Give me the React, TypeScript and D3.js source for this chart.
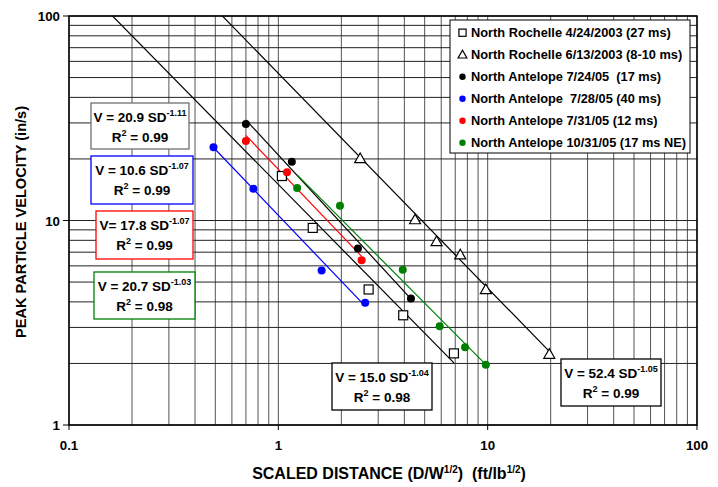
import React from "react";
import * as d3 from "d3";

// series: scaled distance (ft/lb^1/2) and peak particle velocity (in/s)
const seriesNames = [
  "North Rochelle 4/24/2003 (27 ms)",
  "North Rochelle 6/13/2003 (8-10 ms)",
  "North Antelope 7/24/05  (17 ms)",
  "North Antelope  7/28/05 (40 ms)",
  "North Antelope 7/31/05 (12 ms)",
  "North Antelope 10/31/05 (17 ms NE)",
];
const seriesColors = ["#000", "#000", "#000", "#0000ff", "#ff0000", "#008000"];
const seriesShapes = ["square", "triangle", "circle", "circle", "circle", "circle"];

const rochelleAprSD = [1.04, 1.46, 2.7, 3.95, 6.9];
const rochelleAprPPV = [16.5, 9.2, 4.6, 3.44, 2.24];
const rochelleJunSD = [2.46, 4.5, 5.7, 7.4, 9.8, 19.7];
const rochelleJunPPV = [20.1, 10.1, 7.9, 6.8, 4.6, 2.22];
const antelopeJul24SD = [0.7, 1.16, 2.4, 4.3];
const antelopeJul24PPV = [29.6, 19.4, 7.3, 4.15];
const antelopeJul28SD = [0.49, 0.76, 1.61, 2.6];
const antelopeJul28PPV = [22.8, 14.3, 5.7, 3.96];
const antelopeJul31SD = [0.7, 1.1, 2.5];
const antelopeJul31PPV = [24.5, 17.2, 6.4];
const antelopeOct31SD = [1.23, 1.97, 3.93, 5.9, 7.8, 9.8];
const antelopeOct31PPV = [14.4, 11.8, 5.75, 3.04, 2.4, 1.97];

const allSD = [rochelleAprSD, rochelleJunSD, antelopeJul24SD, antelopeJul28SD, antelopeJul31SD, antelopeOct31SD];
const allPPV = [rochelleAprPPV, rochelleJunPPV, antelopeJul24PPV, antelopeJul28PPV, antelopeJul31PPV, antelopeOct31PPV];

// power-law fits V = a * SD^b
const fitCoef = ["15.0", "52.4", "20.9", "10.6", "17.8", "20.7"];
const fitExp = ["-1.04", "-1.05", "-1.11", "-1.07", "-1.07", "-1.03"];
const fitR2 = ["0.98", "0.99", "0.99", "0.99", "0.99", "0.98"];
const trendFrom = [0.1, 0.1, 0.7, 0.49, 0.7, 1.23];

const xTicks = [0.1, 1, 10, 100];
const yTicks = [1, 10, 100];

const W = 718, H = 487;
const font = "'Liberation Sans', Arial, sans-serif";

// where the equation boxes sit: [left, top, width, height, border colour]
const boxes: [number, number, number, number, string][] = [
  [332, 363, 100, 47, "#000"],
  [561, 359, 100, 47, "#000"],
  [91, 103, 98, 46, "#707070"],
  [91, 156, 102, 48, "#0000ff"],
  [96, 211, 97, 48, "#ff0000"],
  [94, 272, 101, 47, "#008000"],
];

export default function App() {
  const x = d3.scaleLog().domain([0.1, 100]).range([69, 697]);
  const y = d3.scaleLog().domain([1, 100]).range([425, 16]);

  const xGrid: number[] = [];
  for (let p = -1; p < 2; p++) for (let k = 1; k < 10; k++) xGrid.push(k * Math.pow(10, p));
  xGrid.push(100);
  const yGrid: number[] = [];
  for (let p = 0; p < 2; p++) for (let k = 1; k < 10; k++) yGrid.push(k * Math.pow(10, p));
  yGrid.push(100);

  const marker = (shape: string, color: string, cx: number, cy: number, key: any, s = 1) => {
    if (shape === "square")
      return <rect key={key} x={cx - 4.5 * s} y={cy - 4.5 * s} width={9 * s} height={9 * s} fill="#fff" stroke="#000" strokeWidth={1.2} />;
    if (shape === "triangle") {
      const r = 5.5 * s;
      const pts = [[cx, cy - r], [cx + r, cy + r * 0.75], [cx - r, cy + r * 0.75]].map(p => p.join(",")).join(" ");
      return <polygon key={key} points={pts} fill="#fff" stroke="#000" strokeWidth={1.2} />;
    }
    return <circle key={key} cx={cx} cy={cy} r={4 * s} fill={color} />;
  };

  return (
    <svg width={W} height={H} style={{ position: "absolute", left: 0, top: 0, background: "#fff" }} fontFamily={font}>
      <defs>
        <clipPath id="plot">
          <rect x={69} y={16} width={628} height={409} />
        </clipPath>
      </defs>
      <rect x={0} y={0} width={W} height={H} fill="#fff" />
      {/* grid */}
      {xGrid.map((v, i) => (
        <line key={"gx" + i} x1={x(v)} x2={x(v)} y1={16} y2={425} stroke="#555" strokeWidth={1} />
      ))}
      {yGrid.map((v, i) => (
        <line key={"gy" + i} x1={69} x2={697} y1={y(v)} y2={y(v)} stroke="#222" strokeWidth={1} />
      ))}
      <rect x={69} y={16} width={628} height={409} fill="none" stroke="#000" strokeWidth={1.5} />

      {/* trend lines */}
      <g clipPath="url(#plot)">
        {allSD.map((sd, i) => {
          const a = +fitCoef[i], b = +fitExp[i];
          const x0 = trendFrom[i], x1 = d3.max(sd) as number;
          return (
            <line key={"t" + i} x1={x(x0)} y1={y(a * Math.pow(x0, b))} x2={x(x1)} y2={y(a * Math.pow(x1, b))}
              stroke={seriesColors[i]} strokeWidth={1.2} />
          );
        })}
      </g>

      {/* points */}
      {allSD.map((sd, i) => (
        <g key={"s" + i}>
          {sd.map((v, j) => marker(seriesShapes[i], seriesColors[i], x(v), y(allPPV[i][j]), j))}
        </g>
      ))}

      {/* axes ticks and labels */}
      {xTicks.map((v, i) => (
        <g key={"xt" + i}>
          <line x1={x(v)} x2={x(v)} y1={425} y2={430} stroke="#000" />
          <text x={x(v)} y={450} textAnchor="middle" fontSize={13.3} fontWeight="bold">{v}</text>
        </g>
      ))}
      {yTicks.map((v, i) => (
        <g key={"yt" + i}>
          <line x1={63} x2={69} y1={y(v)} y2={y(v)} stroke="#000" />
          <text x={60} y={y(v) + 5} textAnchor="end" fontSize={13.3} fontWeight="bold">{v}</text>
        </g>
      ))}
      <text transform="translate(26,222) rotate(-90)" textAnchor="middle" fontSize={14.6} fontWeight="bold">
        PEAK PARTICLE VELOCITY (in/s)
      </text>
      <text x={389} y={479} textAnchor="middle" fontSize={16} fontWeight="bold" style={{ whiteSpace: "pre" }}
        fontFamily="'Liberation Sans Narrow', 'Liberation Sans', Arial, sans-serif">
        SCALED DISTANCE (D/W<tspan dy={-6} fontSize={10}>1/2</tspan><tspan dy={6}>)  (ft/lb</tspan>
        <tspan dy={-6} fontSize={10}>1/2</tspan><tspan dy={6}>)</tspan>
      </text>

      {/* equation boxes */}
      {boxes.map(([bx, by, bw, bh, col], i) => (
        <g key={"b" + i}>
          <rect x={bx} y={by} width={bw} height={bh} fill="#fff" stroke={col} strokeWidth={1.3} />
          <text x={bx + bw / 2} y={by + 19} textAnchor="middle" fontSize={13.5} fontWeight="bold">
            {i === 4 ? "V= " : "V = "}{fitCoef[i]} SD<tspan dy={-6} fontSize={9}>{fitExp[i]}</tspan>
          </text>
          <text x={bx + bw / 2} y={by + 39} textAnchor="middle" fontSize={13.5} fontWeight="bold">
            R<tspan dy={-6} fontSize={9}>2</tspan><tspan dy={6}> = {fitR2[i]}</tspan>
          </text>
        </g>
      ))}

      {/* legend */}
      <rect x={450} y={20} width={240} height={133} fill="#fff" stroke="#000" strokeWidth={1} />
      {seriesNames.map((n, i) => {
        const ly = 32.7 + i * 22;
        return (
          <g key={"l" + i}>
            {marker(seriesShapes[i], seriesColors[i], 462.5, ly, "m", 0.8)}
            <text x={471} y={ly + 4.5} fontSize={12.8} fontWeight="bold" style={{ whiteSpace: "pre" }}>{n}</text>
          </g>
        );
      })}
    </svg>
  );
}
